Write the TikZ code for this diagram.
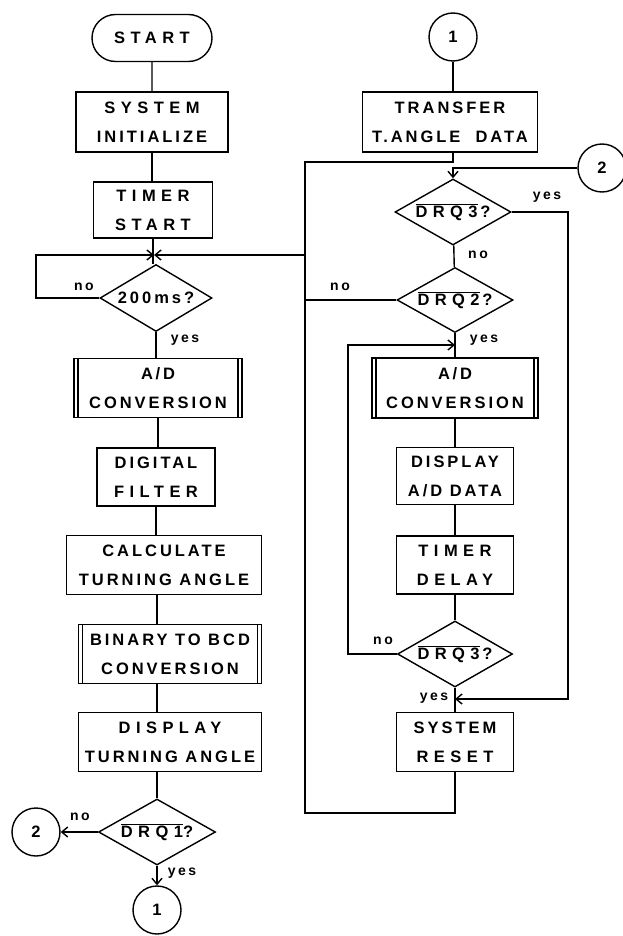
\documentclass[tikz,border=0pt]{standalone}
\usepackage{amsmath}
\usepackage{fontspec}
\usepackage{tikz}
\usetikzlibrary{arrows.meta, positioning, shapes.geometric, shapes.misc}
\newfontfamily\flowfamily[LetterSpace=18]{Liberation Sans}
\newcommand{\boxfont}{\flowfamily\bfseries\fontsize{16.5}{29}\selectfont}
\newcommand{\lblfont}{\flowfamily\bfseries\fontsize{14}{16}\selectfont}
\newcommand{\spread}[1]{{\addfontfeature{LetterSpace=33}#1}}
\newcommand{\ovl}[1]{$\overline{\hbox{#1}}$}

\begin{document}
\begin{tikzpicture}[x=1pt, y=-1pt, line width=1.4pt,
    box/.style={draw, rectangle, minimum height=59pt, inner sep=0pt, align=center, font=\boxfont},
    predef/.style={box, path picture={
        \draw ([xshift=4pt]path picture bounding box.north west) -- ([xshift=4pt]path picture bounding box.south west)
              ([xshift=-4pt]path picture bounding box.north east) -- ([xshift=-4pt]path picture bounding box.south east);}},
    term/.style={draw, rounded rectangle, minimum height=47pt, inner sep=0pt, font=\boxfont},
    decision/.style={draw, diamond, aspect=1.75, inner sep=0pt, minimum width=116pt, minimum height=66pt, font=\boxfont},
    conn/.style={draw, circle, minimum size=48pt, inner sep=0pt, font=\boxfont},
    lbl/.style={font=\lblfont, inner sep=0pt},
    arr/.style={-{Straight Barb[length=6pt,width=10pt]}}]
    \useasboundingbox (0,0) rectangle (623,936);

    % Main loop (left column)
    \node[term, minimum width=120pt] (start) at (152,38) {\spread{START}};
    \node[box, minimum width=152pt, minimum height=60pt] (init) at (152,122) {\spread{SYSTEM}\\INITIALIZE};
    \node[box, minimum width=119pt, minimum height=56pt] (timer) at (153,210) {\spread{TIMER}\\\spread{START}};
    \coordinate (j1) at (154,255);
    \node[decision, minimum width=112pt, minimum height=67pt] (d200) at (156,298) {200ms?};
    \node[predef, minimum width=168pt] (adc1) at (158,388) {\spread{A\,/\,D}\\CONVERSION};
    \node[box, minimum width=118pt, minimum height=58pt] (filt) at (156,477) {DIGITAL\\\spread{FILTER}};
    \node[box, minimum width=195pt] (calc) at (164,565) {CALCULATE\\TURNING ANGLE};
    \node[predef, minimum width=183pt] (bcd) at (170,654) {BINARY TO BCD\\CONVERSION};
    \node[box, minimum width=183pt] (disp) at (170,742) {\spread{DISPLAY}\\TURNING ANGLE};
    \node[decision, minimum width=117pt] (drq1) at (157,832) {\spread{\ovl{DRQ1}?}};
    \node[conn] (c2a) at (36,832) {2};
    \node[conn] (c1a) at (157,910) {1};

    \draw (start) -- (start |- init.north);
    \draw (init) -- (init |- timer.north);
    \draw (timer) -- (timer |- d200.north);
    \draw (d200) -- (d200 |- adc1.north);
    \draw (adc1) -- (adc1 |- filt.north);
    \draw (filt) -- (filt |- calc.north);
    \draw (drq1 |- calc.south) -- (drq1 |- bcd.north);
    \draw (drq1 |- bcd.south) -- (drq1 |- disp.north);
    \draw (drq1 |- disp.south) -- (drq1);
    \draw[arr] (drq1) -- (c2a);
    \draw[arr] (drq1) -- (c1a);

    % no-loop of 200ms
    \coordinate (lbus) at (36,0);
    \draw[arr] (d200) -- (d200.west -| lbus) |- (j1);

    \node[lbl] (no1) at (84,287) {no};
    \node[lbl] (yes1) at (185,340) {yes};
    \node[lbl] (no2) at (80,817) {no};
    \node[lbl] (yes2) at (182,873) {yes};

    % Data request handling (right column)
    \node[conn] (c1b) at (453,37) {1};
    \node[box, minimum width=175pt, minimum height=60pt] (xfer) at (450,122) {TRANSFER\\T.\,ANGLE\ \ DATA};
    \node[conn] (c2b) at (602,168) {2};
    \node[decision] (drq3a) at (453,212) {\spread{\ovl{DRQ3}\,?}};
    \node[decision, minimum height=65pt] (drq2) at (455,300) {\spread{\ovl{DRQ2}\,?}};
    \node[predef, minimum width=166pt, minimum height=60pt] (adc2) at (455,388) {\spread{A\,/\,D}\\CONVERSION};
    \node[box, minimum width=117pt, minimum height=57pt] (dispad) at (455,476) {DISPLAY\\A/D DATA};
    \node[box, minimum width=117pt, minimum height=58pt] (tdel) at (455,565) {\spread{TIMER}\\\spread{DELAY}};
    \node[decision, minimum width=115pt] (drq3b) at (455,654) {\spread{\ovl{DRQ3}\,?}};
    \node[box, minimum width=117pt] (rst) at (455,742) {SYSTEM\\\spread{RESET}};

    \coordinate (bus) at (305,162);
    \coordinate (busend) at (305,813);
    \coordinate (ry) at (568,699);
    \coordinate (lp) at (348,345);

    \draw (c1b) -- (c1b |- xfer.north);
    \draw (xfer.south -| drq3a) -- (drq3a |- bus) -- (bus) -- (busend) -- (busend -| rst) -- (rst);
    \draw[arr] (bus |- j1) -- (j1);
    \draw (drq2) -- (drq2 -| bus);
    \draw[arr] (c2b) -- (c2b -| drq3a) -- (drq3a);
    \draw[arr] (drq3a) -- (drq3a -| ry) -- (ry) -- (ry -| rst);
    \draw (drq3a) -- (drq2);
    \draw (drq2) -- (adc2);
    \draw[arr] (drq3b) -- (drq3b -| lp) -- (lp) -- (lp -| adc2);
    \draw (adc2) -- (dispad);
    \draw (dispad) -- (tdel);
    \draw (tdel) -- (drq3b);
    \draw (drq3b) -- (rst);

    \node[lbl] (yes3) at (547,197) {yes};
    \node[lbl] (no3) at (478,255) {no};
    \node[lbl] (no4) at (340,287) {no};
    \node[lbl] (yes4) at (484,340) {yes};
    \node[lbl] (no5) at (383,641) {no};
    \node[lbl] (yes5) at (434,698) {yes};
\end{tikzpicture}
\end{document}
